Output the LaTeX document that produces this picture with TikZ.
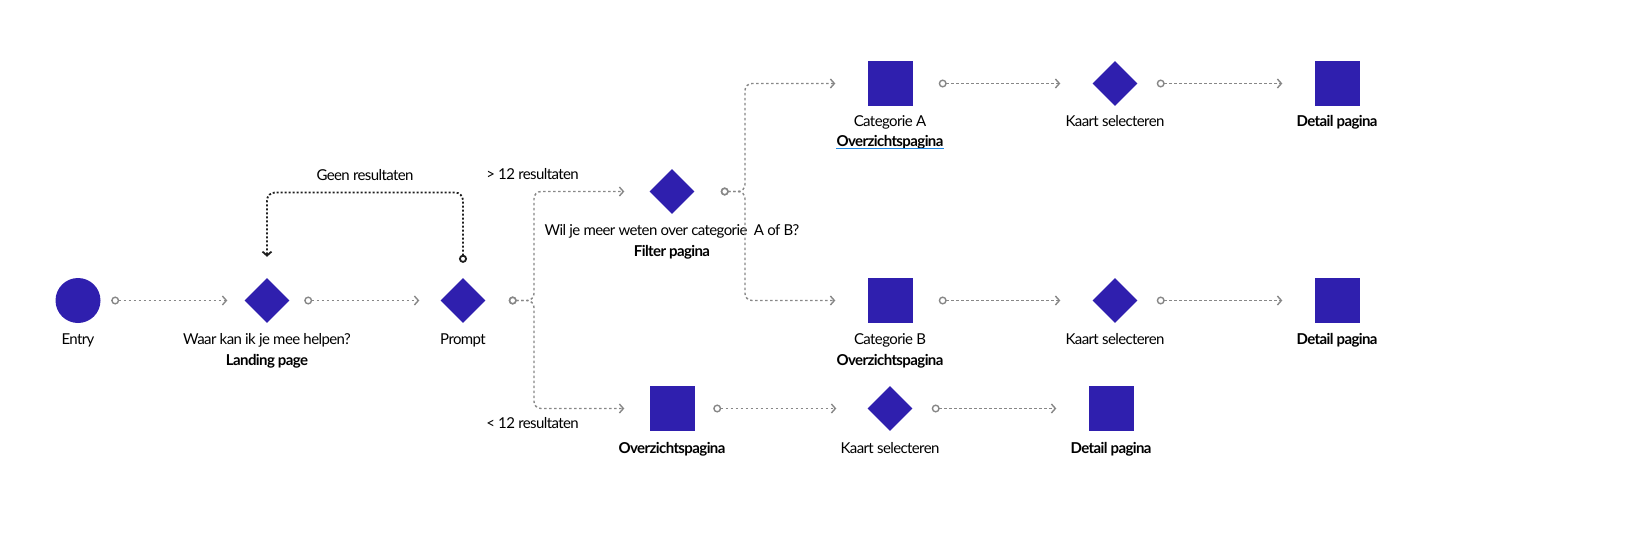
\documentclass[tikz,border=0pt]{standalone}
\usepackage{fontspec}
\setmainfont{Lato}[LetterSpace=-4]
\usetikzlibrary{shapes.geometric,arrows.meta,positioning,calc}
\definecolor{stepfill}{RGB}{47,31,174}
\definecolor{flowgray}{RGB}{135,135,135}
\definecolor{loopblack}{RGB}{30,30,30}
\definecolor{linkblue}{RGB}{30,136,229}

\begin{document}
\begin{tikzpicture}[x=1pt,y=1pt,on grid,
	entrydot/.style={circle,fill=stepfill,inner sep=0,minimum size=45pt},
	choicebox/.style={diamond,fill=stepfill,inner sep=0,minimum size=45pt},
	pagebox/.style={rectangle,fill=stepfill,inner sep=0,minimum size=45pt},
	caption/.style={inner sep=0,text height=11pt,text depth=3pt,font=\fontsize{15}{18}\selectfont,text=black},
	pagename/.style={caption,font=\fontsize{15}{18}\selectfont\bfseries},
	flow/.style={draw=flowgray,line width=1.4pt,dash pattern=on 2.5pt off 2.5pt,rounded corners=7pt,
		{Circle[open,length=8pt,width=8pt]}-{Straight Barb[length=4pt,width=9pt]},
		shorten <=19pt,shorten >=32pt},
	backlink/.style={draw=loopblack,line width=1.8pt,dash pattern=on 2pt off 2pt,rounded corners=8pt,
		{Circle[open,length=8pt,width=8pt]}-{Straight Barb[length=4pt,width=9pt]},
		shorten <=15pt,shorten >=21pt}]
	\useasboundingbox (0,0) rectangle (1633,-538);

	% steps
	\node[entrydot]  (S_entry)   at (78,-300.5) {};
	\node[choicebox] (S_landing) [right=189pt of S_entry] {};
	\node[choicebox] (S_prompt)  [right=196pt of S_landing] {};
	\node[choicebox] (S_filter)  [above right=109pt and 209pt of S_prompt] {};
	\node[pagebox]   (S_ovz)     [below right=108pt and 209pt of S_prompt] {};
	\node[pagebox]   (S_catA)    [above right=108pt and 218pt of S_filter] {};
	\node[choicebox] (S_kaartA)  [right=225pt of S_catA] {};
	\node[pagebox]   (S_detailA) [right=222pt of S_kaartA] {};
	\node[pagebox]   (S_catB)    [below right=109pt and 218pt of S_filter] {};
	\node[choicebox] (S_kaartB)  [right=225pt of S_catB] {};
	\node[pagebox]   (S_detailB) [right=222pt of S_kaartB] {};
	\node[choicebox] (S_kaartC)  [right=218pt of S_ovz] {};
	\node[pagebox]   (S_detailC) [right=221pt of S_kaartC] {};

	% captions
	\node[caption]  (T_entry)   [below=40pt of S_entry] {Entry};
	\node[caption]  (T_landing) [below=40pt of S_landing] {Waar kan ik je mee helpen?};
	\node[pagename] (P_landing) [below=21pt of T_landing] {Landing page};
	\node[caption]  (T_prompt)  [below=40pt of S_prompt] {Prompt};
	\node[caption]  (T_filter)  [below=40pt of S_filter] {Wil je meer weten over categorie~ A of B?};
	\node[pagename] (P_filter)  [below=21pt of T_filter] {Filter pagina};
	\node[caption]  (T_catA)    [below=39pt of S_catA] {Categorie A};
	\node[pagename] (P_catA)    [below=20pt of T_catA] {Overzichtspagina};
	\node[caption]  (T_kaartA)  [below=39pt of S_kaartA] {Kaart selecteren};
	\node[pagename] (P_detailA) [below=39pt of S_detailA] {Detail pagina};
	\node[caption]  (T_catB)    [below=40pt of S_catB] {Categorie B};
	\node[pagename] (P_catB)    [below=21pt of T_catB] {Overzichtspagina};
	\node[caption]  (T_kaartB)  [below=40pt of S_kaartB] {Kaart selecteren};
	\node[pagename] (P_detailB) [below=40pt of S_detailB] {Detail pagina};
	\node[pagename] (P_ovz)     [below=41pt of S_ovz] {Overzichtspagina};
	\node[caption]  (T_kaartC)  [below=41pt of S_kaartC] {Kaart selecteren};
	\node[pagename] (P_detailC) [below=41pt of S_detailC] {Detail pagina};
	\draw[linkblue,line width=1.8pt] ([yshift=-2pt]P_catA.base west) -- ([yshift=-2pt]P_catA.base east);

	% junctions
	\node[coordinate] (J_prompt) [right=71pt of S_prompt] {};
	\node[coordinate] (J_filter) [right=73pt of S_filter] {};
	\node[coordinate] (L_right)  [above=108pt of S_prompt] {};
	\node[coordinate] (L_left)   [above=108pt of S_landing] {};

	% connectors
	\draw[flow,shorten <=10.5pt,shorten >=17pt] (S_entry) -- (S_landing);
	\draw[flow,shorten <=14.5pt,shorten >=21pt] (S_landing) -- (S_prompt);
	\draw[flow,shorten <=23pt,shorten >=25pt] (S_prompt) -- (J_prompt)
		|- node[caption,pos=.5,xshift=-1.5pt,yshift=16.5pt] (T_more) {> 12 resultaten} (S_filter);
	\draw[flow,shorten <=23pt,shorten >=25pt] (S_prompt) -- (J_prompt)
		|- node[caption,pos=.5,xshift=-1.5pt,yshift=-16pt] (T_less) {< 12 resultaten} (S_ovz);
	\draw[flow,shorten <=26pt] (S_filter) -- (J_filter) |- (S_catA);
	\draw[flow,shorten <=26pt] (S_filter) -- (J_filter) |- (S_catB);
	\draw[flow,shorten <=26pt] (S_catA) -- (S_kaartA);
	\draw[flow] (S_kaartA) -- (S_detailA);
	\draw[flow,shorten <=26pt] (S_catB) -- (S_kaartB);
	\draw[flow] (S_kaartB) -- (S_detailB);
	\draw[flow,shorten <=18.5pt,shorten >=31pt] (S_ovz) -- (S_kaartC);
	\draw[flow] (S_kaartC) -- (S_detailC);
	\draw[backlink] (S_prompt) -- (L_right)
		-- node[caption,yshift=16.5pt] (T_geen) {Geen resultaten} (L_left) -- (S_landing);
\end{tikzpicture}
\end{document}
